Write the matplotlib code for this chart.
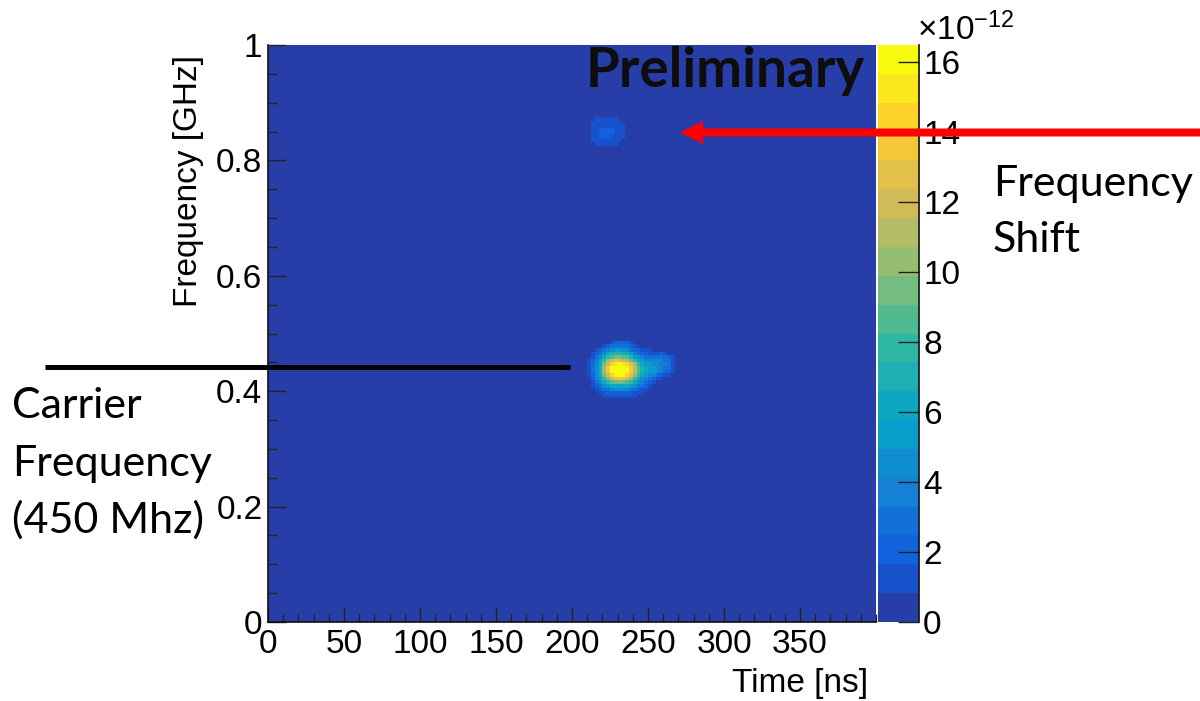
import numpy as np
import matplotlib
matplotlib.use("Agg")
import matplotlib.pyplot as plt
from matplotlib.colors import LinearSegmentedColormap, ListedColormap, BoundaryNorm
from matplotlib.patches import FancyArrow
from matplotlib.ticker import MultipleLocator

plt.rcParams['font.family'] = ['Liberation Sans', 'DejaVu Sans']
plt.rcParams['mathtext.fontset'] = 'custom'
plt.rcParams['mathtext.rm'] = 'Liberation Sans'
plt.rcParams['mathtext.it'] = 'Liberation Sans:italic'

# ---------------- data ----------------
time_range_ns = [0, 400]
freq_range_ghz = [0, 1]
time_bin_ns = 2.5
freq_bin_ghz = 0.00625
z_max = 16.5          # x 1e-12
n_levels = 20

x_ticks = [0, 50, 100, 150, 200, 250, 300, 350]
y_ticks = [0, 0.2, 0.4, 0.6, 0.8, 1]
y_tick_labels = ["0", "0.2", "0.4", "0.6", "0.8", "1"]
z_ticks = [0, 2, 4, 6, 8, 10, 12, 14, 16]

# carrier blob: rows from high frequency (top) to low, columns from t0 onward
carrier_t0_ns = 210.0
carrier_ftop_ghz = 0.4875
carrier_blob = [
    [0, 0, 0, 0, 0, 0, 1.5, 2, 2.2, 2.2, 2, 1.2, 0, 0, 0, 0, 0, 0, 0, 0, 0, 0, 0, 0],
    [0, 0, 0, 0, 1.2, 2, 2.8, 3, 3, 3, 2.8, 2, 1.2, 0, 0, 0, 0, 0, 0, 0, 0, 0, 0, 0],
    [0, 0, 1, 1.8, 2.8, 3.8, 4.5, 5, 5, 4.8, 4.2, 3.2, 2.4, 1.7, 1.2, 1, 0.9, 0, 0, 0, 0, 0, 0, 0],
    [0, 1, 2, 3.2, 4.5, 5.8, 6.8, 7.2, 7.2, 6.8, 6, 5, 3.8, 3, 2.4, 2, 1.6, 1.3, 1.6, 1.9, 1.3, 0, 0, 0],
    [0, 1.5, 2.8, 4.3, 6, 7.8, 9, 9.5, 9.5, 9, 8.3, 7, 5.5, 4.3, 3.7, 3.2, 2.8, 2.5, 2.8, 3, 2.6, 1.8, 1, 0],
    [0.9, 2, 3.7, 5.5, 7.8, 10, 11.8, 12.5, 12.5, 12, 11, 9.8, 8, 6.5, 5.3, 4.8, 4.2, 3.8, 3.8, 3.7, 3.1, 2.5, 1.5, 0],
    [1, 2.6, 4.3, 6.5, 9.3, 12, 14.2, 15.3, 15.7, 15.3, 14.2, 12.5, 10.2, 8, 6.4, 5.7, 5.2, 4.7, 4.2, 3.9, 3.3, 2.5, 1.5, 0],
    [1, 2.6, 4.7, 7, 10.2, 13.3, 15.8, 16.4, 16.5, 16.4, 15.8, 13.8, 11.2, 9, 7.3, 6.2, 5.6, 5.1, 4.6, 4, 3.2, 2.5, 1.2, 0],
    [1, 2.6, 4.7, 7, 10.2, 13.3, 15.8, 16.5, 16.5, 16.4, 15.9, 14, 11.2, 9, 7.3, 6.2, 5.6, 5, 4.5, 3.5, 2.8, 2, 1, 0],
    [0.9, 2.3, 4.2, 6.4, 9.2, 12, 14.4, 15.7, 16, 15.7, 14.8, 12.8, 10.2, 8, 6.3, 5.2, 4.6, 3.8, 3, 2.2, 1.5, 1, 0, 0],
    [0, 1.9, 3.7, 5.4, 7.6, 9.8, 11.8, 12.8, 13.2, 12.8, 11.8, 10.2, 8, 6.3, 4.7, 3.6, 3, 2.2, 1.5, 1, 0, 0, 0, 0],
    [0, 1.3, 2.7, 4.3, 6, 7.6, 8.7, 9.2, 9.5, 9.2, 8.6, 7.5, 6, 4.7, 3.6, 2.6, 1.8, 1, 0, 0, 0, 0, 0, 0],
    [0, 1, 2.1, 3.2, 4.3, 5.4, 6, 6.5, 6.5, 6.5, 6, 5.4, 4.3, 3.2, 2.6, 1.8, 1.2, 0, 0, 0, 0, 0, 0, 0],
    [0, 0, 1.2, 2.1, 2.7, 3.2, 3.8, 4.2, 4.3, 4.2, 3.8, 3.2, 2.6, 2, 1.5, 1, 0, 0, 0, 0, 0, 0, 0, 0],
    [0, 0, 0, 1, 1.5, 1.9, 2.1, 2.3, 2.3, 2.3, 2.1, 1.9, 1.5, 1.2, 1, 0, 0, 0, 0, 0, 0, 0, 0, 0],
    [0, 0, 0, 0, 0.9, 1, 1.2, 1.2, 1.2, 1.2, 1, 1, 0.9, 0, 0, 0, 0, 0, 0, 0, 0, 0, 0, 0],
]

# shifted-frequency blob
shift_t0_ns = 210.0
shift_ftop_ghz = 0.875
shift_blob = [
    [0, 0, 1, 1.2, 1.2, 1.2, 1.2, 1, 0, 0, 0],
    [0, 1, 1.2, 1.3, 1.4, 1.4, 1.3, 1.2, 1, 0, 0],
    [0, 1.1, 1.3, 1.5, 1.6, 1.6, 1.5, 1.3, 1.2, 0.9, 0],
    [0, 1.1, 1.4, 1.8, 2, 2, 1.8, 1.4, 1.2, 1, 0],
    [0, 1.1, 1.4, 1.9, 2.1, 2.1, 1.8, 1.4, 1.2, 1, 0],
    [0, 1, 1.3, 1.8, 1.9, 1.8, 1.5, 1.3, 1.1, 0.9, 0],
    [0, 0.9, 1.2, 1.3, 1.4, 1.3, 1.3, 1.2, 1, 0, 0],
    [0, 0, 1, 1.2, 1.2, 1.2, 1.1, 1, 0, 0, 0],
]

# ---------------- build histogram ----------------
t_edges = np.arange(time_range_ns[0], time_range_ns[1] + time_bin_ns / 2, time_bin_ns)
f_edges = np.linspace(freq_range_ghz[0], freq_range_ghz[1],
                      int(round((freq_range_ghz[1] - freq_range_ghz[0]) / freq_bin_ghz)) + 1)
Z = np.zeros((len(f_edges) - 1, len(t_edges) - 1))


def place(blob, t0, ftop):
    arr = np.array(blob, dtype=float)
    ix0 = int(round(t0 / time_bin_ns))
    iytop = int(round(ftop / freq_bin_ghz)) - 1
    for j in range(arr.shape[0]):
        Z[iytop - j, ix0:ix0 + arr.shape[1]] = arr[j]


place(carrier_blob, carrier_t0_ns, carrier_ftop_ghz)
place(shift_blob, shift_t0_ns, shift_ftop_ghz)

# ROOT kBird palette, 20 contour levels
bird_r = [0.2082, 0.0592, 0.0780, 0.0232, 0.1802, 0.5301, 0.8186, 0.9956, 0.9764]
bird_g = [0.1664, 0.3599, 0.5041, 0.6419, 0.7178, 0.7492, 0.7328, 0.7862, 0.9832]
bird_b = [0.5293, 0.8684, 0.8385, 0.7914, 0.6425, 0.4662, 0.3499, 0.1968, 0.0539]
stops = np.linspace(0, 1, len(bird_r))
bird = LinearSegmentedColormap.from_list(
    "bird", list(zip(stops, zip(bird_r, bird_g, bird_b))), N=255)
level_cols = [bird(int((i + 0.99) * 255 / n_levels) / 254.0) for i in range(n_levels)]
cmap = ListedColormap(level_cols)
bounds = np.linspace(0, z_max, n_levels + 1)
norm = BoundaryNorm(bounds, n_levels)

# ---------------- figure ----------------
W, H = 1200, 701
fig = plt.figure(figsize=(W / 100, H / 100), dpi=100)

ax = fig.add_axes([268 / W, 79 / H, 608 / W, 577 / H])
mesh = ax.pcolormesh(t_edges, f_edges, Z, cmap=cmap, norm=norm,
                     shading='flat', antialiased=False, edgecolors='none')
ax.set_xlim(*time_range_ns)
ax.set_ylim(*freq_range_ghz)
ax.set_xticks(x_ticks)
ax.set_xticklabels([str(v) for v in x_ticks])
ax.set_yticks(y_ticks)
ax.set_yticklabels(y_tick_labels)
ax.xaxis.set_minor_locator(MultipleLocator(10))
ax.yaxis.set_minor_locator(MultipleLocator(0.05))
ax.tick_params(which='both', direction='in', top=False, right=False,
               labelsize=24, color='#222222', width=1)
ax.tick_params(axis='x', which='major', length=11, pad=5)
ax.tick_params(axis='x', which='minor', length=5.5)
ax.tick_params(axis='y', which='major', length=13, pad=4)
ax.tick_params(axis='y', which='minor', length=6.5)
ax.spines['top'].set_visible(False)
ax.spines['right'].set_visible(False)
for s in ('left', 'bottom'):
    ax.spines[s].set_linewidth(1.2)
    ax.spines[s].set_color('#111111')

# colorbar
cax = fig.add_axes([878 / W, 79 / H, 41 / W, 577 / H])
cb = fig.colorbar(mesh, cax=cax, boundaries=bounds, ticks=z_ticks)
cb.outline.set_visible(False)
cb.set_ticklabels([str(v) for v in z_ticks])
cax.tick_params(direction='in', length=15, width=1, labelsize=24, pad=3,
                color='#222222')
cax.minorticks_off()
cax.plot([1, 1], [0, 1], transform=cax.transAxes, color='#111111', lw=1.2,
         clip_on=False)

fig.text(917 / W, 1 - 40 / H, r'$\times10^{-12}$', fontsize=24,
         ha='left', va='baseline')

# axis titles
fig.text(868 / W, 1 - 692 / H, 'Time [ns]', fontsize=24, ha='right', va='baseline')
fig.text(189 / W, 1 - 55 / H, 'Frequency [GHz]', fontsize=24, rotation=90,
         ha='center', va='top')

# overlay in pixel coordinates
ov = fig.add_axes([0, 0, 1, 1], zorder=10)
ov.set_xlim(0, W)
ov.set_ylim(H, 0)
ov.axis('off')
ov.patch.set_alpha(0)

ov.text(865, 87, 'Preliminary', fontsize=39.5, fontweight='bold', family='Lato',
        color='#0d0d0d', ha='right', va='baseline')

ov.add_patch(FancyArrow(1200, 132.5, -520, 0, width=8, head_width=23,
                        head_length=23, length_includes_head=True,
                        color='#ff0000', lw=0))
ov.plot([45, 570], [367, 367], color='black', lw=3.6, solid_capstyle='butt')

ov.text(993, 196, 'Frequency', fontsize=31, family='Lato', ha='left', va='baseline')
ov.text(993, 252, 'Shift', fontsize=31, family='Lato', ha='left', va='baseline')
ov.text(12, 418, 'Carrier', fontsize=31, family='Lato', ha='left', va='baseline')
ov.text(12, 476, 'Frequency', fontsize=31, family='Lato', ha='left', va='baseline')
ov.text(12, 533, '(450 Mhz)', fontsize=31, family='Lato', ha='left', va='baseline')

fig.savefig('out.png', dpi=100)
